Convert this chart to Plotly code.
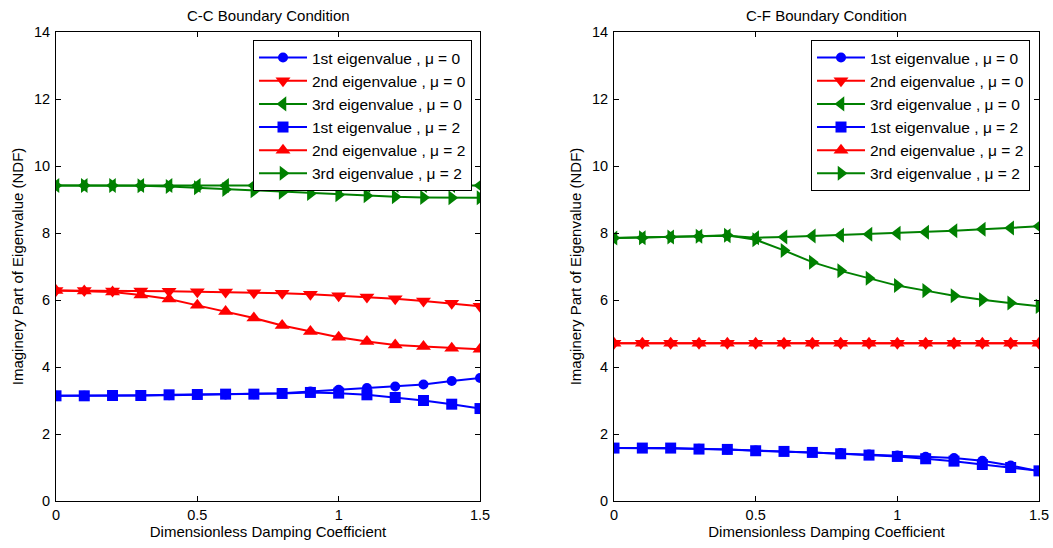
import plotly.graph_objects as go

x = [0, 0.1, 0.2, 0.3, 0.4, 0.5, 0.6, 0.7, 0.8, 0.9, 1.0, 1.1, 1.2, 1.3, 1.4, 1.5]

# C-C boundary condition
cc_1_mu0 = [3.14, 3.14, 3.15, 3.15, 3.16, 3.17, 3.18, 3.19, 3.22, 3.27, 3.32, 3.37, 3.42, 3.48, 3.58, 3.67]
cc_2_mu0 = [6.28, 6.28, 6.27, 6.27, 6.26, 6.25, 6.24, 6.22, 6.20, 6.17, 6.13, 6.09, 6.04, 5.97, 5.90, 5.81]
cc_3_mu0 = [9.42, 9.42, 9.42, 9.42, 9.42, 9.42, 9.42, 9.42, 9.42, 9.42, 9.42, 9.42, 9.42, 9.42, 9.42, 9.42]
cc_1_mu2 = [3.14, 3.14, 3.15, 3.15, 3.17, 3.18, 3.19, 3.19, 3.21, 3.24, 3.22, 3.17, 3.09, 3.00, 2.89, 2.76]
cc_2_mu2 = [6.28, 6.27, 6.24, 6.15, 6.03, 5.84, 5.66, 5.46, 5.24, 5.06, 4.89, 4.76, 4.66, 4.61, 4.56, 4.53]
cc_3_mu2 = [9.42, 9.42, 9.42, 9.41, 9.39, 9.35, 9.30, 9.26, 9.22, 9.18, 9.14, 9.11, 9.08, 9.06, 9.05, 9.05]

# C-F boundary condition
cf_1_mu0 = [1.58, 1.58, 1.58, 1.56, 1.54, 1.51, 1.49, 1.46, 1.43, 1.39, 1.36, 1.32, 1.28, 1.20, 1.06, 0.89]
cf_2_mu0 = [4.71, 4.71, 4.71, 4.71, 4.71, 4.71, 4.71, 4.71, 4.71, 4.71, 4.71, 4.71, 4.71, 4.71, 4.71, 4.71]
cf_3_mu0 = [7.85, 7.86, 7.88, 7.90, 7.92, 7.86, 7.88, 7.91, 7.93, 7.96, 7.99, 8.02, 8.07, 8.11, 8.15, 8.20]
cf_1_mu2 = [1.58, 1.58, 1.58, 1.55, 1.54, 1.50, 1.48, 1.45, 1.41, 1.37, 1.33, 1.26, 1.19, 1.09, 1.00, 0.90]
cf_2_mu2 = [4.71, 4.71, 4.71, 4.71, 4.71, 4.71, 4.71, 4.71, 4.71, 4.71, 4.71, 4.71, 4.71, 4.71, 4.71, 4.71]
cf_3_mu2 = [7.85, 7.86, 7.88, 7.90, 7.93, 7.80, 7.48, 7.13, 6.87, 6.65, 6.43, 6.28, 6.13, 6.01, 5.91, 5.81]

names = ["1st eigenvalue , \u03bc = 0", "2nd eigenvalue , \u03bc = 0", "3rd eigenvalue , \u03bc = 0",
         "1st eigenvalue , \u03bc = 2", "2nd eigenvalue , \u03bc = 2", "3rd eigenvalue , \u03bc = 2"]
colors = ["#0000ff", "#ff0000", "#008000", "#0000ff", "#ff0000", "#008000"]
symbols = ["circle", "triangle-down", "triangle-left", "square", "triangle-up", "triangle-right"]
msizes = [10, 13, 13, 11, 13, 13]

xticks = [0, 0.5, 1, 1.5]
xticklabels = ["0", "0.5", "1", "1.5"]
yticks = [0, 2, 4, 6, 8, 10, 12, 14]

titles = ["C-C Boundary Condition", "C-F Boundary Condition"]
xlabel = "Dimensionless Damping Coefficient"
ylabel = "Imaginery Part of Eigenvalue (NDF)"

FONT = "Liberation Sans, Arial, sans-serif"
W, H = 1053, 548
ML, MR, MT, MB = 56, 14, 32, 47
PW = W - ML - MR
PH = H - MT - MB

fig = go.Figure()

sets = [
    (cc_1_mu0, cc_2_mu0, cc_3_mu0, cc_1_mu2, cc_2_mu2, cc_3_mu2),
    (cf_1_mu0, cf_2_mu0, cf_3_mu0, cf_1_mu2, cf_2_mu2, cf_3_mu2),
]
for p, series in enumerate(sets):
    xa = "x" if p == 0 else "x2"
    ya = "y" if p == 0 else "y2"
    lg = "legend" if p == 0 else "legend2"
    for i, ys in enumerate(series):
        fig.add_trace(go.Scatter(
            x=x, y=ys, name=names[i], mode="lines+markers",
            line=dict(color=colors[i], width=2),
            marker=dict(symbol=symbols[i], size=msizes[i], color=colors[i],
                        line=dict(width=0)),
            xaxis=xa, yaxis=ya, legend=lg,
        ))

dom_x = [[0, (480 - ML) / PW], [(614 - ML) / PW, 1]]

axis_common = dict(
    showline=True, linecolor="#000000", linewidth=1, mirror="ticks",
    ticks="inside", ticklen=5, tickcolor="#000000", showgrid=False, zeroline=False,
    automargin=False,
    tickfont=dict(family=FONT, size=14.5, color="#000000"),
)

layout = dict(
    width=W, height=H,
    margin=dict(l=ML, r=MR, t=MT, b=MB),
    paper_bgcolor="white", plot_bgcolor="white",
    font=dict(family=FONT, size=14, color="#000000"),
)
for p in range(2):
    sx = "" if p == 0 else "2"
    layout["xaxis" + sx] = dict(
        axis_common, domain=dom_x[p], range=[0, 1.5], tickvals=xticks, ticktext=xticklabels,
        anchor="y" + sx, ticklabelstandoff=1,
        title=dict(text=xlabel, font=dict(family=FONT, size=15, color="#000000"), standoff=3),
    )
    layout["yaxis" + sx] = dict(
        axis_common, domain=[0, 1], range=[0, 14], tickvals=yticks,
        anchor="x" + sx, ticklabelstandoff=2,
        title=dict(text=ylabel, font=dict(family=FONT, size=15, color="#000000"), standoff=6),
    )

leg_common = dict(
    bgcolor="white", bordercolor="#000000", borderwidth=1,
    font=dict(family=FONT, size=15.5, color="#000000"),
    xanchor="right", yanchor="top", tracegroupgap=0, itemwidth=48,
)
layout["legend"] = dict(leg_common, x=(472 - ML) / PW, y=1 - (40 - MT) / PH)
layout["legend2"] = dict(leg_common, x=(1030 - ML) / PW, y=1 - (40 - MT) / PH)

annotations = []
for p in range(2):
    cx = (dom_x[p][0] + dom_x[p][1]) / 2
    annotations.append(dict(
        text=titles[p], x=cx, y=1 + (MT - 15) / PH, xref="paper", yref="paper",
        xanchor="center", yanchor="middle", showarrow=False,
        font=dict(family=FONT, size=15, color="#000000"),
    ))
layout["annotations"] = annotations

fig.update_layout(**layout)
fig.write_html("out.html")
